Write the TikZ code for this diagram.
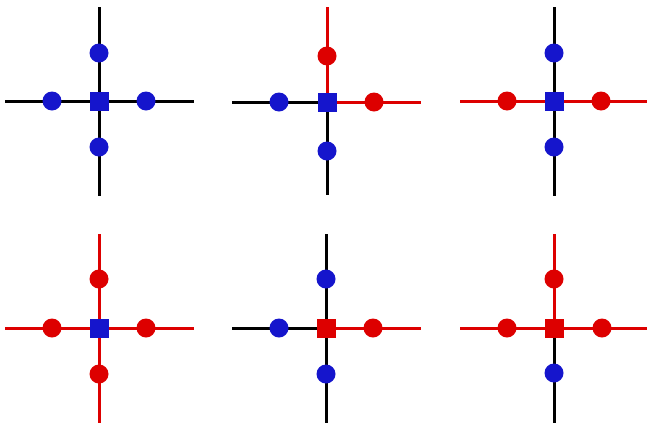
\documentclass[tikz,border=0pt]{standalone}
\begin{document}
\begin{tikzpicture}[x=1pt,y=-1pt,
  lk/.style={line width=3pt,draw=black},
  lr/.style={line width=3pt,draw=myred},
  dotb/.style={circle,fill=myblue,inner sep=0pt,minimum size=19pt},
  dotr/.style={circle,fill=myred,inner sep=0pt,minimum size=19pt},
  sqb/.style={rectangle,fill=myblue,inner sep=0pt,minimum size=19pt},
  sqr/.style={rectangle,fill=myred,inner sep=0pt,minimum size=19pt}]
\definecolor{myblue}{RGB}{21,21,204}
\definecolor{myred}{RGB}{221,0,0}
\useasboundingbox (0,0) rectangle (647,426);
% panel 1
\coordinate (c1) at (99,101);
\coordinate (c1n) at (99,7); \coordinate (c1s) at (99,196);
\coordinate (c1w) at (5,101); \coordinate (c1e) at (194,101);
\draw[lk] (c1) -- (c1n); \draw[lk] (c1) -- (c1s);
\draw[lk] (c1) -- (c1w); \draw[lk] (c1) -- (c1e);
\node[dotb] (d1n) at (99,53) {}; \node[dotb] (d1s) at (99,147) {};
\node[dotb] (d1w) at (52,101) {}; \node[dotb] (d1e) at (146,101) {};
\node[sqb] (s1) at (c1) {};
% panel 2
\coordinate (c2) at (327,102);
\coordinate (c2n) at (327,7); \coordinate (c2s) at (327,195);
\coordinate (c2w) at (232,102); \coordinate (c2e) at (421,102);
\draw[lr] (c2) -- (c2n); \draw[lk] (c2) -- (c2s);
\draw[lk] (c2) -- (c2w); \draw[lr] (c2) -- (c2e);
\node[dotr] (d2n) at (327,56) {}; \node[dotb] (d2s) at (327,151) {};
\node[dotb] (d2w) at (279,102) {}; \node[dotr] (d2e) at (374,102) {};
\node[sqb] (s2) at (c2) {};
% panel 3
\coordinate (c3) at (554,101);
\coordinate (c3n) at (554,7); \coordinate (c3s) at (554,196);
\coordinate (c3w) at (460,101); \coordinate (c3e) at (647,101);
\draw[lk] (c3) -- (c3n); \draw[lk] (c3) -- (c3s);
\draw[lr] (c3) -- (c3w); \draw[lr] (c3) -- (c3e);
\node[dotb] (d3n) at (554,53) {}; \node[dotb] (d3s) at (554,147) {};
\node[dotr] (d3w) at (507,101) {}; \node[dotr] (d3e) at (601,101) {};
\node[sqb] (s3) at (c3) {};
% panel 4
\coordinate (c4) at (99,328);
\coordinate (c4n) at (99,234); \coordinate (c4s) at (99,423);
\coordinate (c4w) at (5,328); \coordinate (c4e) at (194,328);
\draw[lr] (c4) -- (c4n); \draw[lr] (c4) -- (c4s);
\draw[lr] (c4) -- (c4w); \draw[lr] (c4) -- (c4e);
\node[dotr] (d4n) at (99,279) {}; \node[dotr] (d4s) at (99,374) {};
\node[dotr] (d4w) at (52,328) {}; \node[dotr] (d4e) at (146,328) {};
\node[sqb] (s4) at (c4) {};
% panel 5
\coordinate (c5) at (326,328);
\coordinate (c5n) at (326,234); \coordinate (c5s) at (326,423);
\coordinate (c5w) at (232,328); \coordinate (c5e) at (421,328);
\draw[lk] (c5) -- (c5n); \draw[lk] (c5) -- (c5s);
\draw[lk] (c5) -- (c5w); \draw[lr] (c5) -- (c5e);
\node[dotb] (d5n) at (326,279) {}; \node[dotb] (d5s) at (326,374) {};
\node[dotb] (d5w) at (279,328) {}; \node[dotr] (d5e) at (373,328) {};
\node[sqr] (s5) at (c5) {};
% panel 6
\coordinate (c6) at (554,328);
\coordinate (c6n) at (554,234); \coordinate (c6s) at (554,423);
\coordinate (c6w) at (460,328); \coordinate (c6e) at (647,328);
\draw[lr] (c6) -- (c6n); \draw[lk] (c6) -- (c6s);
\draw[lr] (c6) -- (c6w); \draw[lr] (c6) -- (c6e);
\node[dotr] (d6n) at (554,279) {}; \node[dotb] (d6s) at (554,373) {};
\node[dotr] (d6w) at (507,328) {}; \node[dotr] (d6e) at (602,328) {};
\node[sqr] (s6) at (c6) {};
\end{tikzpicture}
\end{document}
